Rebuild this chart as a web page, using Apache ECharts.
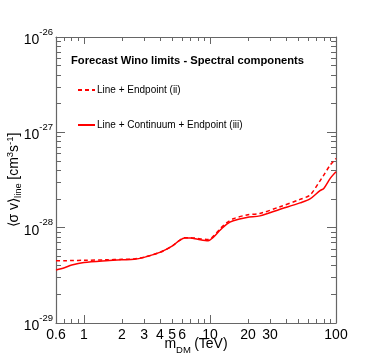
<!DOCTYPE html>
<html>
<head>
<meta charset="utf-8">
<script src="https://cdn.jsdelivr.net/npm/echarts@6/dist/echarts.min.js"></script>
<style>
  html, body { margin: 0; padding: 0; background: #fff; }
  #main { width: 374px; height: 359px; }
</style>
</head>
<body>
<div id="main"></div>
<script>
// m_DM in TeV
const massTeV = [0.6, 0.7, 0.8, 1.0, 1.5, 2.0, 2.5, 3.0, 4.0, 5.0, 5.7, 6.3, 7.0, 8.0, 9.7, 10.6, 12.0, 13.6, 15.3, 19.6, 24.9, 36.0, 51.8, 62.2, 74.7, 80, 90, 100]
// <sigma v>_line in cm^3 s^-1, Line + Endpoint (ii)
const lineEndpoint = [4.5e-29, 4.5e-29, 4.52e-29, 4.55e-29, 4.6e-29, 4.65e-29, 4.7e-29, 4.9e-29, 5.5e-29, 6.4e-29, 7.3e-29, 7.85e-29, 7.85e-29, 7.7e-29, 7.5e-29, 8.1e-29, 9.7e-29, 1.13e-28, 1.24e-28, 1.36e-28, 1.41e-28, 1.66e-28, 1.98e-28, 2.2e-28, 3.1e-28, 3.56e-28, 4.54e-28, 5.33e-28]
// Line + Continuum + Endpoint (iii)
const lineContEndpoint = [3.6e-29, 3.8e-29, 4.05e-29, 4.3e-29, 4.5e-29, 4.6e-29, 4.65e-29, 4.88e-29, 5.5e-29, 6.4e-29, 7.3e-29, 7.8e-29, 7.8e-29, 7.55e-29, 7.3e-29, 7.9e-29, 9.4e-29, 1.09e-28, 1.18e-28, 1.28e-28, 1.33e-28, 1.56e-28, 1.82e-28, 2.0e-28, 2.45e-28, 2.58e-28, 3.29e-28, 3.86e-28]

const xLabels = [0.6, 1, 2, 3, 4, 5, 6, 10, 20, 30, 100]
const xMajorTicks = [1, 10, 100]
const xMinorTicks = [0.7, 0.8, 0.9, 2, 3, 4, 5, 6, 7, 8, 9, 20, 30, 40, 50, 60, 70, 80, 90]
const yDecades = [-29, -28, -27, -26]
const yMinorMant = [2, 3, 4, 5, 6, 7, 8, 9]

// ECharts rounds tiny numbers away, so the y axis works in units of 1e-29 cm^3/s
const yUnitExp = -29
const toUnit = v => v / Math.pow(10, yUnitExp)
const yMajorTicks = yDecades.map(e => Math.pow(10, e - yUnitExp))
const yMinorTicks = []
yDecades.slice(0, -1).forEach(e => yMinorMant.forEach(m => yMinorTicks.push(m * Math.pow(10, e - yUnitExp))))

const font = 'Liberation Sans, Arial, Helvetica, sans-serif'
const axisColor = '#666'
const red = '#ff0000'

const chart = echarts.init(document.getElementById('main'), null, { renderer: 'canvas' })

function xAxisCfg(pos, ticks, len, withLine, withLabel) {
  return {
    type: 'log', logBase: 10, min: 0.6, max: 100, position: pos,
    axisLine: { show: withLine, lineStyle: { color: axisColor, width: 1.2 } },
    axisTick: { show: true, inside: true, length: len, customValues: ticks, lineStyle: { color: axisColor, width: 1 } },
    axisLabel: withLabel ? {
      show: true, customValues: xLabels, margin: 5, color: '#000', fontSize: 14, fontFamily: font,
      formatter: v => String(Math.round(v * 10) / 10)
    } : { show: false },
    splitLine: { show: false },
    minorTick: { show: false }
  }
}

function yAxisCfg(pos, ticks, len, withLine, withLabel) {
  return {
    type: 'log', logBase: 10, min: yMajorTicks[0], max: yMajorTicks[yMajorTicks.length - 1], position: pos,
    axisLine: { show: withLine, lineStyle: { color: axisColor, width: 1.2 } },
    axisTick: { show: true, inside: true, length: len, customValues: ticks, lineStyle: { color: axisColor, width: 1 } },
    axisLabel: withLabel ? {
      show: true, customValues: yMajorTicks, margin: 3, color: '#000', fontFamily: font,
      formatter: v => '{b|10}{s|' + (Math.round(Math.log10(v)) + yUnitExp) + '}',
      rich: {
        b: { fontSize: 14, fontFamily: font, color: '#000', lineHeight: 20, verticalAlign: 'bottom' },
        s: { fontSize: 9.5, fontFamily: font, color: '#000', lineHeight: 20, verticalAlign: 'top' }
      }
    } : { show: false },
    splitLine: { show: false },
    minorTick: { show: false }
  }
}

const xMain = xAxisCfg('bottom', xMajorTicks, 8, true, true)
xMain.name = '{n|m}{sub|DM} {n|(TeV)}'
xMain.nameLocation = 'middle'
xMain.nameGap = 14
xMain.nameMoveOverlap = false
xMain.nameTextStyle = {
  rich: {
    n: { fontSize: 14, fontFamily: font, color: '#000', lineHeight: 18, verticalAlign: 'top' },
    sub: { fontSize: 9.5, fontFamily: font, color: '#000', lineHeight: 18, verticalAlign: 'bottom' }
  }
}

const yMain = yAxisCfg('left', yMajorTicks, 9, true, true)
yMain.name = '{n|⟨σ v⟩}{sub|line} {n|[cm}{sup|3}{n|s}{sup|-1}{n|]}'
yMain.nameLocation = 'middle'
yMain.nameRotate = 90
yMain.nameGap = 33
yMain.nameMoveOverlap = false
yMain.nameTextStyle = {
  rich: {
    n: { fontSize: 14, fontFamily: font, color: '#000', lineHeight: 18 },
    sub: { fontSize: 9.5, fontFamily: font, color: '#000', lineHeight: 18, verticalAlign: 'bottom' },
    sup: { fontSize: 9.5, fontFamily: font, color: '#000', lineHeight: 18, verticalAlign: 'top' }
  }
}

const option = {
  backgroundColor: '#fff',
  animation: false,
  title: {
    text: 'Forecast Wino limits - Spectral components',
    left: 71, top: 55, padding: 0,
    textStyle: { fontSize: 11.2, fontWeight: 'bold', fontFamily: font, color: '#000' }
  },
  legend: {
    orient: 'vertical', left: 77, top: 85, padding: 0,
    itemWidth: 17, itemHeight: 12, itemGap: 25,
    itemStyle: { opacity: 0 },
    textStyle: { fontSize: 10, fontFamily: font, color: '#000', padding: [0, 0, 0, -3] },
    data: ['Line + Endpoint (ii)', 'Line + Continuum + Endpoint (iii)']
  },
  grid: { left: 56, right: 38, top: 37, bottom: 36, containLabel: false, outerBoundsMode: 'none' },
  xAxis: [
    xMain,
    xAxisCfg('bottom', xMinorTicks, 4, false, false),
    xAxisCfg('top', xMajorTicks, 7, true, false),
    xAxisCfg('top', xMinorTicks, 4, false, false)
  ],
  yAxis: [
    yMain,
    yAxisCfg('left', yMinorTicks, 5, false, false),
    yAxisCfg('right', yMajorTicks, 9, true, false),
    yAxisCfg('right', yMinorTicks, 5, false, false)
  ],
  series: [
    {
      name: 'Line + Endpoint (ii)',
      type: 'line',
      smooth: 0.3,
      symbol: 'none',
      data: massTeV.map((m, i) => [m, toUnit(lineEndpoint[i])]),
      lineStyle: { color: red, width: 1.5, type: [4, 3] },
      itemStyle: { color: red }
    },
    {
      name: 'Line + Continuum + Endpoint (iii)',
      type: 'line',
      smooth: 0.3,
      symbol: 'none',
      data: massTeV.map((m, i) => [m, toUnit(lineContEndpoint[i])]),
      lineStyle: { color: red, width: 1.5 },
      itemStyle: { color: red }
    }
  ]
}

chart.setOption(option)
</script>
</body>
</html>
